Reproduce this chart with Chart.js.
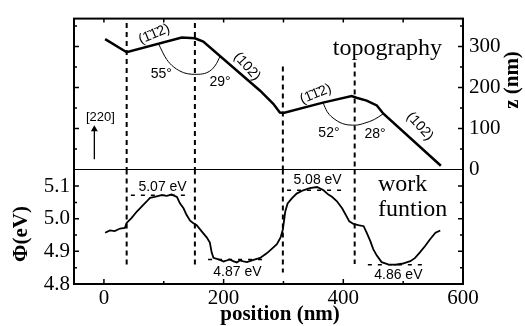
<!DOCTYPE html>
<html lang="en">
<head>
<meta charset="UTF-8">
<title>Topography and work function line scan</title>
<script src="https://cdn.jsdelivr.net/npm/chart.js"></script>
<style>
    html, body { margin: 0; padding: 0; background: #fff; }
    #wrap { width: 525px; height: 326px; }
</style>
</head>
<body>
<div id="wrap"><canvas id="chart" width="525" height="326"></canvas></div>
<script>
// topography line scan (position nm, z nm)
const topoPos = [2, 38, 130, 152, 166, 261, 283, 294, 300, 366, 414, 422, 439, 456, 467, 563];
const topoZ = [318, 286, 322, 320, 312, 192, 160, 139, 138, 163, 179, 175, 168, 156, 136, 9];

// work function line scan (position nm, phi eV)
const wfPos = [2, 10, 18, 27, 35, 38, 46, 55, 63, 71, 77, 85, 96, 105, 113, 122, 127, 133, 138, 144,
    149, 155, 163, 172, 177, 180, 183, 194, 200, 205, 210, 216, 222, 227, 233, 239, 245, 250, 261, 272,
    280, 289, 295, 299, 303, 307, 314, 322, 333, 344, 356, 367, 375, 381, 389, 398, 404, 410, 417, 425,
    434, 439, 445, 450, 456, 464, 475, 487, 498, 512, 520, 528, 537, 545, 554, 562];
const wfPhi = [4.957, 4.964, 4.962, 4.970, 4.972, 4.987, 5.002, 5.022, 5.037, 5.052, 5.064, 5.067, 5.072, 5.070, 5.074, 5.067, 5.047, 5.032, 5.012, 4.994,
    4.987, 4.980, 4.962, 4.942, 4.927, 4.897, 4.880, 4.874, 4.869, 4.872, 4.875, 4.870, 4.866, 4.872, 4.869, 4.867, 4.871, 4.874, 4.880, 4.894,
    4.907, 4.922, 4.942, 4.967, 5.022, 5.047, 5.062, 5.077, 5.087, 5.094, 5.097, 5.087, 5.074, 5.067, 5.054, 5.032, 5.012, 4.992, 4.984, 4.980,
    4.977, 4.957, 4.932, 4.907, 4.887, 4.867, 4.860, 4.859, 4.862, 4.870, 4.880, 4.897, 4.917, 4.937, 4.957, 4.964];

// facet angle arcs
const arc1Pos = [91, 105, 127, 152, 177, 188, 194];
const arc1Z = [307, 268, 240, 232, 240, 258, 276];
const arc2Pos = [366, 373, 386, 403, 420, 436, 452, 467];
const arc2Z = [163, 141, 122, 110, 108, 113, 122, 136];

// dashed vertical markers
const markerPos = [38, 152, 299, 419];
const markerTopZ = [357, 357, 251, 261];
const markerLowPhi = [4.856, 4.856, 4.835, 4.861];

// plateau levels
const levelStart = [45, 174, 306, 441];
const levelEnd = [144, 272, 405, 537];
const levelPhi = [5.072, 4.875, 5.087, 4.859];
const levelLabels = ['5.07 eV', '4.87 eV', '5.08 eV', '4.86 eV'];

// [220] arrow
const arrowPos = [-16, -16];
const arrowZ = [25, 98];

// tick labels and tick marks
const xTickVals = [0, 200, 400, 600];
const zTickVals = [0, 100, 200, 300];
const phiTickVals = [4.8, 4.9, 5.0, 5.1];
const xTickMarks = [0, 100, 200, 300, 400, 500, 600];
const zTickMarks = [50, 100, 150, 200, 250, 300, 350];
const phiTickMarks = [4.85, 4.9, 4.95, 5.0, 5.05, 5.1];

const SERIF = "'Liberation Serif', 'Times New Roman', serif";
const SANS = "'Liberation Sans', Arial, sans-serif";

const pts = (xs, ys) => xs.map((x, i) => ({x: x, y: ys[i]}));

const upperMarkers = [];
const lowerMarkers = [];
markerPos.forEach((x, i) => {
    upperMarkers.push({x: x, y: markerTopZ[i]}, {x: x, y: 0}, {x: x, y: null});
    lowerMarkers.push({x: x, y: 5.151}, {x: x, y: markerLowPhi[i]}, {x: x, y: null});
});
const levels = [];
levelStart.forEach((x, i) => {
    levels.push({x: x, y: levelPhi[i]}, {x: levelEnd[i], y: levelPhi[i]}, {x: levelEnd[i], y: null});
});

const fixW = w => scale => { scale.width = w; };
const fixH = h => scale => { scale.height = h; };
const setTicks = vals => scale => { scale.ticks = vals.map(v => ({value: v})); };
const noGrid = {display: false, drawTicks: false};
const tickFont = {family: SERIF, size: 21};

// text annotations in data coordinates
const notes = [
    {t: 'topography', x: 565, y: 278, ax: 'z', font: '24px ' + SERIF, align: 'right', base: 'alphabetic'},
    {t: 'work', x: 458, y: 5.085, ax: 'phi', font: '24px ' + SERIF, align: 'left', base: 'alphabetic'},
    {t: 'funtion', x: 458, y: 5.007, ax: 'phi', font: '24px ' + SERIF, align: 'left', base: 'alphabetic'},
    {t: '[220]', x: -6, y: 128, ax: 'z', font: '13px ' + SANS},
    {t: '55°', x: 96, y: 233, ax: 'z', font: '14px ' + SANS},
    {t: '29°', x: 194, y: 214, ax: 'z', font: '14px ' + SANS},
    {t: '52°', x: 376, y: 89, ax: 'z', font: '14px ' + SANS},
    {t: '28°', x: 453, y: 85, ax: 'z', font: '14px ' + SANS},
    {t: '(1\u03041\u03042)', x: 84, y: 330, ax: 'z', font: '14px ' + SANS, rot: -23},
    {t: '(102)', x: 239, y: 251, ax: 'z', font: '14px ' + SANS, rot: 48},
    {t: '(1\u03041\u03042)', x: 354, y: 184, ax: 'z', font: '14px ' + SANS, rot: -22},
    {t: '(102)', x: 528, y: 105, ax: 'z', font: '14px ' + SANS, rot: 48},
    {t: levelLabels[0], x: 98, y: 5.096, ax: 'phi', font: '14px ' + SANS},
    {t: levelLabels[1], x: 223, y: 4.837, ax: 'phi', font: '14px ' + SANS},
    {t: levelLabels[2], x: 357, y: 5.119, ax: 'phi', font: '14px ' + SANS},
    {t: levelLabels[3], x: 492, y: 4.827, ax: 'phi', font: '14px ' + SANS}
];

function drawText(ctx, text, px, py, font, align, base, rot) {
    ctx.save();
    ctx.translate(px, py);
    if (rot) ctx.rotate(rot * Math.PI / 180);
    ctx.font = font;
    ctx.textAlign = align || 'center';
    ctx.textBaseline = base || 'middle';
    ctx.fillStyle = '#000';
    ctx.fillText(text, 0, 0);
    ctx.restore();
}

const isIn = (v, arr) => arr.some(a => Math.abs(a - v) < 1e-6);

const framePlugin = {
    id: 'frame',
    afterDraw(chart) {
        const {ctx, chartArea: a, scales: s} = chart;
        ctx.save();
        ctx.strokeStyle = '#000';
        // frame
        ctx.lineWidth = 2;
        ctx.strokeRect(a.left, a.top, a.right - a.left, a.bottom - a.top);
        // panel divider
        const yDiv = Math.round(s.z.getPixelForValue(0)) + 0.5;
        ctx.lineWidth = 1.2;
        ctx.beginPath();
        ctx.moveTo(a.left, yDiv);
        ctx.lineTo(a.right, yDiv);
        ctx.stroke();
        // inward tick marks
        ctx.lineWidth = 1.5;
        ctx.beginPath();
        xTickMarks.forEach(v => {
            const px = s.x.getPixelForValue(v);
            const len = isIn(v, xTickVals) ? 5 : 3;
            ctx.moveTo(px, a.bottom); ctx.lineTo(px, a.bottom - len);
            ctx.moveTo(px, a.top); ctx.lineTo(px, a.top + 4);
        });
        zTickMarks.forEach(v => {
            const py = s.z.getPixelForValue(v);
            const len = isIn(v, zTickVals) ? 5 : 3;
            ctx.moveTo(a.left, py); ctx.lineTo(a.left + len, py);
            ctx.moveTo(a.right, py); ctx.lineTo(a.right - len, py);
        });
        phiTickMarks.forEach(v => {
            const py = s.phi.getPixelForValue(v);
            const len = isIn(v, phiTickVals) ? 5 : 3;
            ctx.moveTo(a.left, py); ctx.lineTo(a.left + len, py);
            ctx.moveTo(a.right, py); ctx.lineTo(a.right - len, py);
        });
        ctx.stroke();
        ctx.restore();

        // annotations
        notes.forEach(n => {
            drawText(ctx, n.t, s.x.getPixelForValue(n.x), s[n.ax].getPixelForValue(n.y), n.font, n.align, n.base, n.rot);
        });

        // axis titles
        drawText(ctx, 'position (nm)', 280, a.bottom + 31, 'bold 21px ' + SERIF);
        drawText(ctx, '\u03A6(eV)', 22, 234, 'bold 21px ' + SERIF, 'center', 'middle', -90);
        drawText(ctx, 'z (nm)', 513, 80, 'bold 21px ' + SERIF, 'center', 'middle', -90);
    }
};

const lineBase = {borderColor: '#000', pointRadius: 0, fill: false, spanGaps: false, xAxisID: 'x'};

new Chart(document.getElementById('chart'), {
    type: 'line',
    data: {
        datasets: [
            Object.assign({}, lineBase, {label: 'topography', data: pts(topoPos, topoZ), yAxisID: 'z', borderWidth: 2.5, tension: 0}),
            Object.assign({}, lineBase, {label: 'work function', data: pts(wfPos, wfPhi), yAxisID: 'phi', borderWidth: 1.8, tension: 0}),
            Object.assign({}, lineBase, {label: 'arc 1', data: pts(arc1Pos, arc1Z), yAxisID: 'z', borderWidth: 1, cubicInterpolationMode: 'monotone'}),
            Object.assign({}, lineBase, {label: 'arc 2', data: pts(arc2Pos, arc2Z), yAxisID: 'z', borderWidth: 1, cubicInterpolationMode: 'monotone'}),
            Object.assign({}, lineBase, {label: 'markers upper', data: upperMarkers, yAxisID: 'z', borderWidth: 2, borderDash: [5, 4]}),
            Object.assign({}, lineBase, {label: 'markers lower', data: lowerMarkers, yAxisID: 'phi', borderWidth: 2, borderDash: [5, 4]}),
            Object.assign({}, lineBase, {label: 'levels', data: levels, yAxisID: 'phi', borderWidth: 1.5, borderDash: [4, 6]}),
            Object.assign({}, lineBase, {label: 'arrow', data: pts(arrowPos, arrowZ), yAxisID: 'zL', borderWidth: 1.3,
                pointRadius: [0, 4], pointStyle: 'triangle', pointBackgroundColor: '#000', pointBorderWidth: 0})
        ]
    },
    options: {
        responsive: false,
        animation: false,
        events: [],
        layout: {padding: 0},
        plugins: {legend: {display: false}, tooltip: {enabled: false}},
        scales: {
            x: {type: 'linear', position: 'bottom', min: -50, max: 600, grid: noGrid, border: {display: false},
                ticks: {font: tickFont, color: '#000', padding: 2, maxRotation: 0, autoSkip: false},
                afterBuildTicks: setTicks(xTickVals), afterFit: fixH(42)},
            xTop: {type: 'linear', position: 'top', min: -50, max: 600, grid: noGrid, border: {display: false},
                ticks: {display: false}, afterFit: fixH(13)},
            z: {type: 'linear', position: 'right', stack: 'right', stackWeight: 154, weight: 0, min: 0, max: 368,
                grid: noGrid, border: {display: false},
                ticks: {font: tickFont, color: '#000', padding: 6, autoSkip: false},
                afterBuildTicks: setTicks(zTickVals), afterFit: fixW(62)},
            phiR: {type: 'linear', position: 'right', stack: 'right', stackWeight: 117, weight: 1, min: 4.8, max: 5.151,
                grid: noGrid, border: {display: false}, ticks: {display: false}, afterFit: fixW(62)},
            phi: {type: 'linear', position: 'left', stack: 'left', stackWeight: 117, weight: 0, min: 4.8, max: 5.151,
                grid: noGrid, border: {display: false},
                ticks: {font: tickFont, color: '#000', padding: 4, autoSkip: false, callback: v => v.toFixed(1)},
                afterBuildTicks: setTicks(phiTickVals), afterFit: fixW(74)},
            zL: {type: 'linear', position: 'left', stack: 'left', stackWeight: 154, weight: 1, min: 0, max: 368,
                grid: noGrid, border: {display: false}, ticks: {display: false}, afterFit: fixW(74)}
        }
    },
    plugins: [framePlugin]
});
</script>
</body>
</html>
